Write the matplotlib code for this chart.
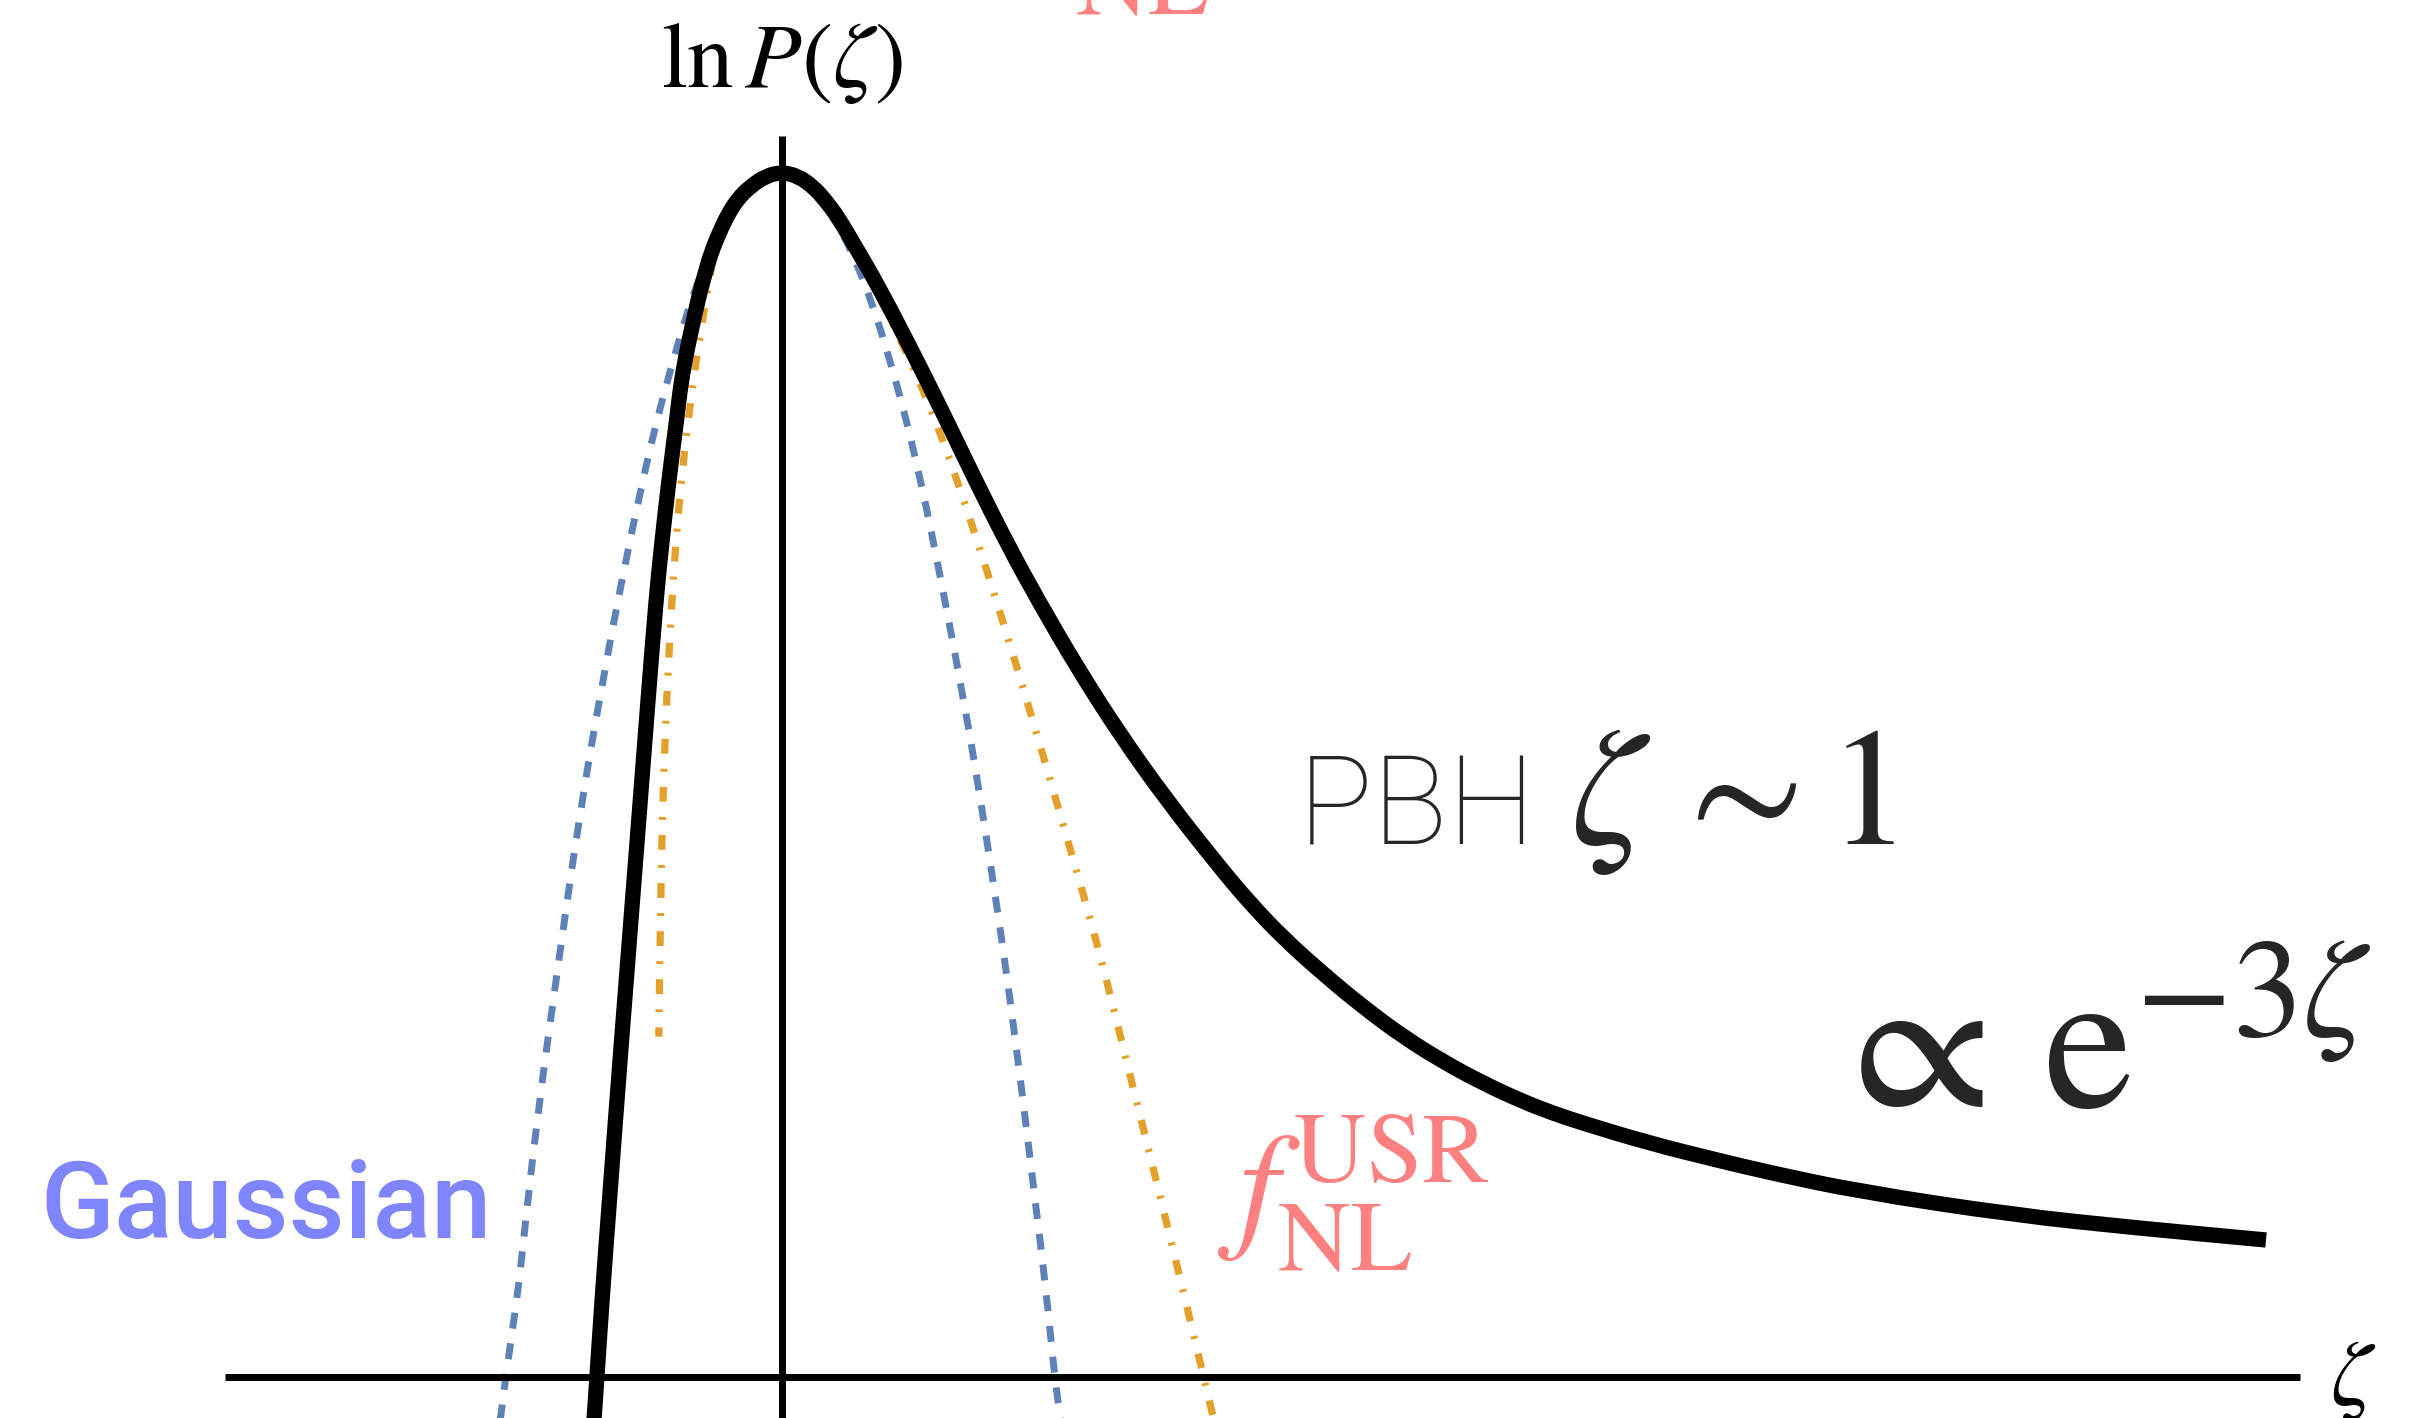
import matplotlib
matplotlib.use("Agg")
import matplotlib.pyplot as plt
import numpy as np
from matplotlib.path import Path
from matplotlib.patches import PathPatch

plt.rcParams['mathtext.fontset'] = 'stix'

# ln P(zeta) of the full distribution (Gaussian core, exponential tail)
zeta_full = [-0.2442, -0.2403, -0.2338, -0.2221, -0.2104, -0.1870, -0.1740, -0.1636,
             -0.1571, -0.1474, -0.1364, -0.1312, -0.1234, -0.1169, -0.1091, -0.1006,
             -0.0922, -0.0818, -0.0701, -0.0571, -0.0416, -0.0208, 0.0, 0.0208,
             0.0416, 0.0571, 0.0727, 0.0948, 0.1230, 0.1684, 0.2117, 0.2529, 0.2948,
             0.3325, 0.3831, 0.4377, 0.4996, 0.5688, 0.6078, 0.6510, 0.7030, 0.7549,
             0.8069, 0.8588, 0.9108, 0.9627, 1.0017, 1.0406, 1.1273, 1.2139, 1.2831,
             1.3987, 1.6000, 1.7610, 1.9273]
lnp_full = [-0.36, 0.0, 0.638, 1.632, 2.626, 4.532, 5.609, 6.437,
            6.852, 7.407, 7.954, 8.235, 8.509, 8.699, 8.923, 9.130,
            9.312, 9.478, 9.635, 9.764, 9.862, 9.953, 9.983, 9.952,
            9.857, 9.744, 9.611, 9.371, 9.064, 8.509, 7.954, 7.407, 6.877,
            6.437, 5.882, 5.336, 4.780, 4.221, 3.927, 3.637, 3.339, 3.065,
            2.819, 2.612, 2.433, 2.281, 2.185, 2.102, 1.936, 1.798, 1.693,
            1.537, 1.342, 1.234, 1.135]

# Gaussian approximation
zeta_gauss = [-0.366, -0.359, -0.343, -0.3366, -0.318, -0.290, -0.262, -0.232, -0.202,
              -0.176, -0.158, -0.135, -0.111, -0.0896, -0.06, -0.03, 0.0, 0.03, 0.06,
              0.0927, 0.118, 0.140, 0.162, 0.179, 0.196, 0.238, 0.262, 0.283, 0.294,
              0.312, 0.328, 0.343, 0.354, 0.362]
lnp_gauss = [-0.36, 0.0, 0.70, 1.08, 2.15, 3.45, 4.70, 5.80, 6.80,
             7.57, 8.04, 8.57, 9.06, 9.38, 9.70, 9.91, 9.98, 9.91, 9.70,
             9.30, 8.88, 8.43, 7.92, 7.45, 6.95, 5.55, 4.62, 3.73, 3.23,
             2.35, 1.50, 0.72, 0.0, -0.36]

# local f_NL expansion, left and right branches
zeta_fnl_left = [-0.090, -0.101, -0.1065, -0.1110, -0.1190, -0.1265, -0.1330, -0.1370,
                 -0.1430, -0.1500, -0.1555, -0.1582, -0.1600]
lnp_fnl_left = [9.25, 8.85, 8.62, 8.45, 8.07, 7.68, 7.27, 6.99,
                6.44, 5.61, 4.64, 3.68, 2.82]
zeta_fnl_right = [0.095, 0.122, 0.144, 0.170, 0.196, 0.218, 0.239, 0.256, 0.278, 0.297,
                  0.315, 0.333, 0.351, 0.368, 0.386, 0.403, 0.419, 0.428, 0.450, 0.4755,
                  0.5005, 0.5245, 0.5475, 0.561]
lnp_fnl_right = [9.30, 9.00, 8.73, 8.37, 7.98, 7.60, 7.21, 6.88, 6.44, 6.05,
                 5.67, 5.28, 4.89, 4.51, 4.12, 3.73, 3.35, 3.12, 2.55, 1.90,
                 1.25, 0.62, 0.0, -0.36]

zeta_pbh = 1.0
pbh_top = 3.43

x_axis_start, x_axis_end = -0.7234, 1.9714
y_axis_top = 10.28
y_bottom = -0.34

blue = '#5E82B8'
orange = '#E3A02A'
salmon = '#FF8080'
dark = '#262626'
dashdot = (0, (2.05, 2.1, 0.41, 2.1))


def smooth_curve(ax, xs, ys, **kw):
    # quadratic Bezier through the midpoints, using the points as controls
    pts = np.column_stack([xs, ys])
    verts = [pts[0]]
    codes = [Path.MOVETO]
    for i in range(1, len(pts) - 1):
        verts += [pts[i], (pts[i] + pts[i + 1]) / 2]
        codes += [Path.CURVE3, Path.CURVE3]
    verts.append(pts[-1])
    codes.append(Path.LINETO)
    ax.add_patch(PathPatch(Path(verts, codes), fill=False, **kw))


fig = plt.figure(figsize=(24.29, 14.18), dpi=100)
ax = fig.add_axes([0, 0, 1, 1])
ax.set_xlim(-1.0156, 2.139)
ax.set_ylim(y_bottom, 11.41)
ax.axis('off')

# axes
ax.plot([x_axis_start, x_axis_end], [0, 0], color='black', lw=5, solid_capstyle='butt', zorder=3)
ax.plot([0, 0], [y_bottom - 0.05, y_axis_top], color='black', lw=5, solid_capstyle='butt', zorder=3)

# approximations
smooth_curve(ax, zeta_gauss, lnp_gauss, edgecolor=blue, lw=5,
             linestyle=(0, (2.3, 2.15)), capstyle='butt', zorder=1)
smooth_curve(ax, zeta_fnl_left, lnp_fnl_left, edgecolor=orange, lw=5.2,
             linestyle=dashdot, capstyle='butt', zorder=1)
smooth_curve(ax, zeta_fnl_right, lnp_fnl_right, edgecolor=orange, lw=5.2,
             linestyle=dashdot, capstyle='butt', zorder=1)

# full distribution
smooth_curve(ax, zeta_full, lnp_full, edgecolor='black', lw=11, capstyle='butt',
             joinstyle='round', zorder=4)

# PBH threshold
ax.plot([zeta_pbh, zeta_pbh], [pbh_top, y_bottom - 0.05], color=dark, lw=9.4,
        linestyle=(0, (0.0, 3.08)), dash_capstyle='round', zorder=2)

# labels
ax.text(0, 10.69, r'$\ln P(\zeta)$', fontsize=67, ha='center', va='baseline', color='black')
ax.text(2.040, -0.232, r'$\zeta$', fontsize=67, ha='center', va='baseline', color='black')
ax.text(0.3805, 11.30, r'$\mathrm{NL}$', fontsize=72, ha='left', va='baseline', color=salmon)

ax.text(0.565, 1.193, r'$f_{\mathrm{NL}}^{\mathrm{USR}}$', fontsize=103, ha='left',
        va='baseline', color=salmon)

ax.text(-0.9636, 1.152, 'Gaussian', fontsize=78, family='Roboto', weight='medium',
        ha='left', va='baseline', color='#7F84FF')

ax.text(0.670, 4.416, 'PBH', fontsize=90, family='Roboto', weight='light',
        ha='left', va='baseline', color=dark)
ax.text(1.023, 4.416, r'$\zeta\,\sim 1$', fontsize=120, ha='left', va='baseline', color=dark)
ax.text(1.352, 2.229, r'$\propto\,\mathrm{e}^{-3\zeta}$', fontsize=145, ha='left',
        va='baseline', color=dark)

fig.savefig('out.png', dpi=100)
